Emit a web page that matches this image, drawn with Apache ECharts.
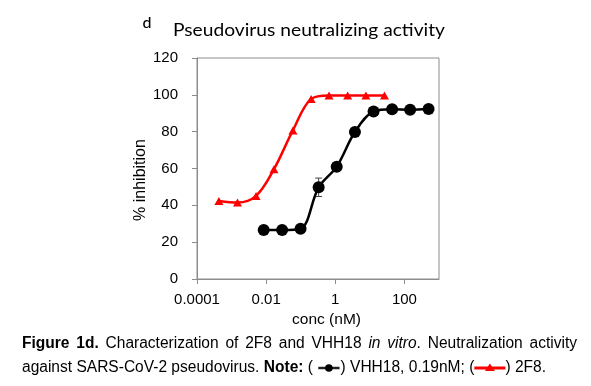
<!DOCTYPE html>
<html><head><meta charset="utf-8">
<script src="https://cdn.jsdelivr.net/npm/echarts@6/dist/echarts.min.js"></script>
<style>html,body{margin:0;padding:0;background:#fff}#c{width:591px;height:386px}</style>
</head><body><div id="c"></div>
<script>
// ---- data ----
const xTickExponents = [-4, -2, 0, 2];
const xTickLabels = ['0.0001', '0.01', '1', '100'];
const yMin = 0, yMax = 120, yStep = 20;

const vhh18Conc = [0.0085, 0.029, 0.099, 0.33, 1.1, 3.7, 12.8, 44, 146, 500];
const vhh18Inhibition = [26.6, 26.6, 27.3, 49.8, 61.0, 79.8, 91.0, 92.2, 91.9, 92.3];
const vhh18Err = [1.0, 1.0, 1.5, 5.0, 1.5, 2.0, 1.5, 1.0, 1.0, 1.0];

const f2f8Conc = [0.00043, 0.00148, 0.0051, 0.0168, 0.0594, 0.2, 0.66, 2.28, 7.7, 26.5];
const f2f8Inhibition = [42.4, 41.5, 45.1, 59.6, 80.7, 97.8, 99.7, 99.7, 99.7, 99.7];

const panelLetter = 'd';
const chartTitle = 'Pseudovirus neutralizing activity';
const xName = 'conc (nM)';
const yName = '% inhibition';

// ---- helpers ----
const mctx = document.createElement('canvas').getContext('2d');
function tw(text, font) { mctx.font = font; return mctx.measureText(text).width; }

const AX_FONT = '"Liberation Sans", Arial, sans-serif';
const CF = '"Liberation Sans Narrow", "Arial Narrow", "Liberation Sans", sans-serif';
const CS = 16;
const fN = CS + 'px ' + CF, fB = 'bold ' + CS + 'px ' + CF, fI = 'italic ' + CS + 'px ' + CF;

const graphics = [];

// panel letter + title
graphics.push({type: 'text', x: 142.5, y: 23, style: {text: panelLetter, font: '500 16px Lato, sans-serif', fill: '#000', align: 'left', verticalAlign: 'middle'}});
const tFont = '16.5px Lato, "Open Sans", sans-serif';
const tScale = 272 / tw(chartTitle, tFont);
graphics.push({type: 'text', x: 173, y: 30.5, scaleX: tScale, style: {text: chartTitle, font: tFont, fill: '#000', align: 'left', verticalAlign: 'middle'}});

// caption line 2 (natural spacing, scaled to the reference width)
const ICON_BLACK = 24, ICON_RED = 32;
const line2 = [
  {t: 'against SARS-CoV-2 pseudovirus. ', f: fN},
  {t: 'Note:', f: fB},
  {t: ' ( ', f: fN},
  {icon: 'black', w: ICON_BLACK},
  {t: ') VHH18, 0.19nM; (', f: fN},
  {icon: 'red', w: ICON_RED},
  {t: ') 2F8.', f: fN}
];
let nat = 0;
line2.forEach(s => { s.nw = s.icon ? s.w : tw(s.t, s.f); nat += s.nw; });
const L = 22, R1 = 577, R2 = 546;
const sc = (R2 - L) / nat;
let cx = L;
const y2 = 368, y1 = 343.3;
line2.forEach(s => {
  if (s.icon) {
    const w = s.nw * sc, mid = cx + w / 2;
    if (s.icon === 'black') {
      graphics.push({type: 'line', shape: {x1: cx + 1, y1: y2, x2: cx + w - 1, y2: y2}, style: {stroke: '#222', lineWidth: 2.5}});
      graphics.push({type: 'circle', shape: {cx: mid, cy: y2, r: 3.8}, style: {fill: '#000'}});
    } else {
      graphics.push({type: 'line', shape: {x1: cx, y1: y2, x2: cx + w, y2: y2}, style: {stroke: '#ff0000', lineWidth: 3}});
      graphics.push({type: 'polygon', shape: {points: [[mid - 5, y2 + 3], [mid + 5, y2 + 3], [mid, y2 - 4.5]]}, style: {fill: '#ff0000'}});
    }
    cx += w;
  } else {
    graphics.push({type: 'text', x: cx, y: y2, scaleX: sc, style: {text: s.t, font: s.f, fill: '#000', align: 'left', verticalAlign: 'middle'}});
    cx += s.nw * sc;
  }
});

// caption line 1 (justified)
const line1Words = [
  [{t: 'Figure', f: fB}], [{t: '1d.', f: fB}], [{t: 'Characterization', f: fN}], [{t: 'of', f: fN}],
  [{t: '2F8', f: fN}], [{t: 'and', f: fN}], [{t: 'VHH18', f: fN}], [{t: 'in', f: fI}],
  [{t: 'vitro', f: fI}, {t: '.', f: fN}], [{t: 'Neutralization', f: fN}], [{t: 'activity', f: fN}]
];
let wsum = 0;
line1Words.forEach(w => { w.nw = w.reduce((a, p) => a + tw(p.t, p.f), 0) * sc; wsum += w.nw; });
const gap = (R1 - L - wsum) / (line1Words.length - 1);
cx = L;
line1Words.forEach(w => {
  let px = cx;
  w.forEach(p => {
    graphics.push({type: 'text', x: px, y: y1, scaleX: sc, style: {text: p.t, font: p.f, fill: '#000', align: 'left', verticalAlign: 'middle'}});
    px += tw(p.t, p.f) * sc;
  });
  cx += w.nw + gap;
});

const log10 = Math.log10;
const vhhData = vhh18Conc.map((c, i) => [log10(c), vhh18Inhibition[i]]);
const errData = vhh18Conc.map((c, i) => [log10(c), vhh18Inhibition[i] - vhh18Err[i], vhh18Inhibition[i] + vhh18Err[i]]);
const f2f8Data = f2f8Conc.map((c, i) => [log10(c), f2f8Inhibition[i]]);

const AXC = '#8c8c8c';
const chart = echarts.init(document.getElementById('c'), null, {renderer: 'canvas'});
chart.setOption({
  animation: false,
  backgroundColor: '#fff',
  grid: {left: 197, right: 152, top: 58, bottom: 107, show: true, borderColor: AXC, borderWidth: 1, backgroundColor: 'transparent'},
  xAxis: {
    type: 'value', min: -4, max: 3, interval: 2,
    axisLine: {show: true, onZero: false, lineStyle: {color: AXC, width: 1}},
    axisTick: {show: true, customValues: xTickExponents, length: 5, lineStyle: {color: AXC}},
    axisLabel: {customValues: xTickExponents, formatter: v => xTickLabels[xTickExponents.indexOf(v)] || '', color: '#000', fontSize: 15, fontFamily: AX_FONT, margin: 13},
    splitLine: {show: false},
    name: xName, nameLocation: 'middle', nameGap: 26,
    nameTextStyle: {color: '#000', fontSize: 15.5, fontFamily: AX_FONT, padding: [0, 0, 0, 17]}
  },
  yAxis: {
    type: 'value', min: yMin, max: yMax, interval: yStep,
    axisLine: {show: true, onZero: false, lineStyle: {color: AXC, width: 1}},
    axisTick: {show: true, length: 5, lineStyle: {color: AXC}},
    axisLabel: {color: '#000', fontSize: 15, fontFamily: AX_FONT, margin: 19},
    splitLine: {show: false},
    name: yName, nameLocation: 'middle', nameGap: 40,
    nameTextStyle: {color: '#000', fontSize: 16, fontFamily: AX_FONT, padding: [0, 23, 0, 0]}
  },
  series: [
    {
      type: 'custom', name: 'err', z: 1,
      encode: {x: 0, y: [1, 2]},
      data: errData,
      renderItem: (params, api) => {
        const x = api.value(0);
        const p1 = api.coord([x, api.value(1)]), p2 = api.coord([x, api.value(2)]);
        const hw = 3.5, st = {stroke: '#444', lineWidth: 1};
        return {type: 'group', children: [
          {type: 'line', shape: {x1: p1[0], y1: p1[1], x2: p2[0], y2: p2[1]}, style: st},
          {type: 'line', shape: {x1: p1[0] - hw, y1: p1[1], x2: p1[0] + hw, y2: p1[1]}, style: st},
          {type: 'line', shape: {x1: p2[0] - hw, y1: p2[1], x2: p2[0] + hw, y2: p2[1]}, style: st}
        ]};
      }
    },
    {
      type: 'line', name: 'VHH18', z: 3, data: vhhData, smooth: 0.35,
      symbol: 'circle', symbolSize: 12, showSymbol: true,
      itemStyle: {color: '#000'}, lineStyle: {color: '#000', width: 2.5}
    },
    {
      type: 'line', name: '2F8', z: 4, data: f2f8Data, smooth: 0.35,
      symbol: 'triangle', symbolSize: [9, 8], showSymbol: true,
      itemStyle: {color: '#ff0000'}, lineStyle: {color: '#ff0000', width: 2.5}
    }
  ],
  graphic: graphics
});
</script>
</body></html>
